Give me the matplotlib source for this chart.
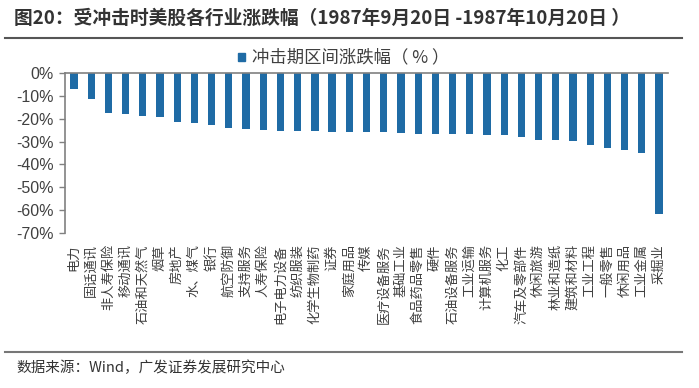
import matplotlib.pyplot as plt
from matplotlib.lines import Line2D
from matplotlib.patches import Rectangle
from matplotlib.ticker import FuncFormatter

plt.rcParams['font.family'] = ['Noto Sans CJK SC', 'DejaVu Sans']

industries = ['电力', '固话通讯', '非人寿保险', '移动通讯', '石油和天然气', '烟草', '房地产',
              '水、煤气', '银行', '航空防御', '支持服务', '人寿保险', '电子电力设备', '纺织服装',
              '化学生物制药', '证券', '家庭用品', '传媒', '医疗设备服务', '基础工业', '食品药品零售',
              '硬件', '石油设备服务', '工业运输', '计算机服务', '化工', '汽车及零部件', '休闲旅游',
              '林业和造纸', '建筑和材料', '工业工程', '一般零售', '休闲用品', '工业金属', '采掘业']
changes = [-7.0, -11.2, -17.6, -17.9, -18.8, -19.4, -21.3, -22.0, -22.7, -24.1, -24.5, -24.8,
           -25.5, -25.5, -25.5, -25.7, -25.7, -26.0, -26.0, -26.2, -26.5, -26.5, -26.5, -26.8,
           -27.1, -27.1, -28.0, -29.2, -29.2, -29.6, -31.6, -32.7, -33.5, -34.9, -61.7]
yticks = [0, -10, -20, -30, -40, -50, -60, -70]

bar_color = '#1f6ba5'
text_color = '#404040'

fig = plt.figure(figsize=(6.99, 3.88), dpi=100)
ax = fig.add_axes([0.093, 0.3995, 0.8627, 0.4124])

x = list(range(len(industries)))
ax.bar(x, changes, width=0.42, color=bar_color, zorder=2)

ax.set_xlim(-0.52, len(industries) - 0.48)
ax.set_ylim(-70, 0)
ax.set_yticks(yticks)
ax.yaxis.set_major_formatter(FuncFormatter(lambda v, p: '%d%%' % v))
for lab in ax.get_yticklabels():
    lab.set_family(['Liberation Sans', 'DejaVu Sans'])
    lab.set_fontsize(11.5)
    lab.set_color(text_color)
ax.tick_params(axis='y', length=4, width=1, color='#808080', pad=4)

ax.set_xticks(x)
ax.set_xticklabels(industries, rotation=90, fontsize=9.5, color=text_color, va='top', ha='center')
ax.tick_params(axis='x', length=0, pad=8)

for s in ['right', 'bottom']:
    ax.spines[s].set_visible(False)
ax.spines['top'].set_color('#808080')
ax.spines['left'].set_color('#808080')
ax.spines['top'].set_linewidth(1.2)
ax.spines['left'].set_linewidth(1.2)

# title and rules
fig.text(0.02, 0.953, '图20：受冲击时美股各行业涨跌幅（1987年9月20日 -1987年10月20日 ）',
         fontsize=13.5, fontweight='bold', color='#333333', va='center', ha='left')
fig.add_artist(Line2D([0.007, 0.975], [0.902, 0.902], color='#555555', lw=1.5))
fig.add_artist(Line2D([0.007, 0.975], [0.093, 0.093], color='#777777', lw=1.5))
fig.text(0.024, 0.052, '数据来源：Wind，广发证券发展研究中心', fontsize=10.5,
         color='#333333', va='center', ha='left')

# legend
fig.add_artist(Rectangle((0.340, 0.843), 0.0105, 0.02, color=bar_color,
                         transform=fig.transFigure))
fig.text(0.360, 0.852, '冲击期区间涨跌幅（ % ）', fontsize=12.5, color=text_color,
         va='center', ha='left')

fig.savefig('out.png', dpi=100)
